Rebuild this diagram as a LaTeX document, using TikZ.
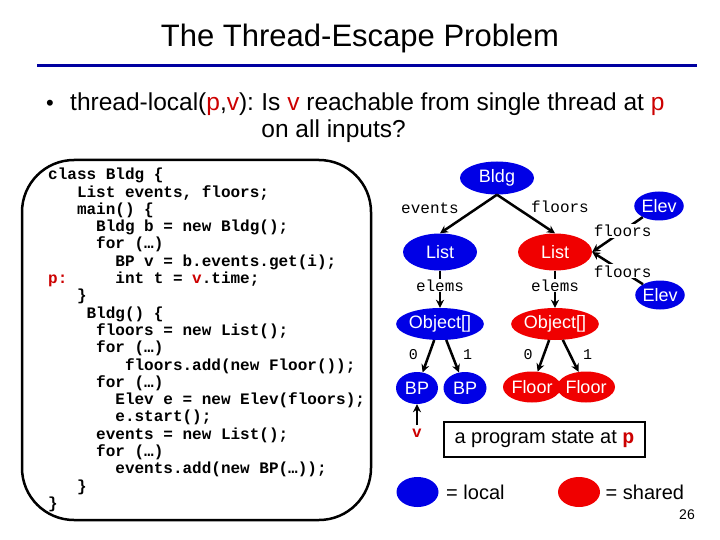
\documentclass[tikz,border=0pt]{standalone}
\usepackage{fontspec}
\setmainfont{Liberation Sans}
\newfontfamily\codefont{Liberation Mono}
\usepackage{tikz}
\usetikzlibrary{shapes.geometric, positioning, arrows.meta}
\definecolor{localblue}{RGB}{0,0,230}
\definecolor{sharedred}{RGB}{240,0,0}
\definecolor{titlerule}{RGB}{0,0,160}
\definecolor{hilite}{RGB}{204,0,0}
\newlength{\cw}\setlength{\cw}{9.6pt}
\newcommand{\codeind}[1]{\hspace*{#1\cw}}
\tikzset{
    >={Stealth[length=8pt, width=8pt]}, % small pointed heads
    heap/.style={ellipse, inner sep=0pt, text=white, font=\fontsize{18}{18}\selectfont, minimum width=74pt, minimum height=33pt}, % one object of the heap
    local/.style={heap, fill=localblue},
    shared/.style={heap, fill=sharedred},
    field/.style={font=\codefont\fontsize{16}{16}\selectfont, inner sep=1pt, fill=white}, % field names on the edges
    idx/.style={font=\codefont\fontsize{15}{15}\selectfont, inner sep=2pt},
    ref/.style={->, line width=2.5pt},
    big/.style={font=\fontsize{20}{20}\selectfont},
    ask/.style={font=\fontsize{24.5}{24.5}\selectfont, anchor=base west, inner sep=0pt},
}

\begin{document}
\begin{tikzpicture}[x=1pt, y=-1pt]
    \useasboundingbox (0,0) rectangle (720,540);
    % title
    \node[font=\fontsize{31}{31}\selectfont, anchor=base] (title) at (360,47) {The Thread-Escape Problem};
    \coordinate (ruleL) at (37,66);
    \coordinate (ruleR) at (697,66);
    \draw[titlerule, line width=3pt] (ruleL) -- (ruleR);
    % the question
    \node[font=\fontsize{22}{22}\selectfont, anchor=base] (dot) at (50,111) {\textbullet};
    \node[ask] (askA) at (70,111) {thread-local(\textcolor{hilite}{p},\textcolor{hilite}{v}):};
    \node[ask] (askB) at ([xshift=7pt]askA.base east) {Is \textcolor{hilite}{v} reachable from single thread at \textcolor{hilite}{p}};
    \node[ask] (askC) at ([yshift=-27pt]askB.base west) {on all inputs?};
    % the program
    \node[draw, line width=2.5pt, rounded corners=52pt, minimum width=349pt, minimum height=360pt] (prog) at (196.5,340) {};
    \node[anchor=north west, align=left, inner sep=0pt, font=\codefont\bfseries\fontsize{16}{17.3}\selectfont] (src) at (48,168) {%
        class Bldg \{\\
        \codeind{3}List events, floors;\\
        \codeind{3}main() \{\\
        \codeind{5}Bldg b = new Bldg();\\
        \codeind{5}for (…)\\
        \codeind{7}BP v = b.events.get(i);\\
        \textcolor{hilite}{p:}\codeind{5}int t = \textcolor{hilite}{v}.time;\\
        \codeind{3}\}\\
        \codeind{4}Bldg() \{\\
        \codeind{5}floors = new List();\\
        \codeind{5}for (…)\\
        \codeind{8}floors.add(new Floor());\\
        \codeind{5}for (…)\\
        \codeind{7}Elev e = new Elev(floors);\\
        \codeind{7}e.start();\\
        \codeind{5}events = new List();\\
        \codeind{5}for (…)\\
        \codeind{7}events.add(new BP(…));\\
        \codeind{3}\}\\
        \}};
    % the heap
    \node[local] (bldg) at (497,178) {Bldg};
    \node[local, minimum height=37pt] (eventsList) at (440,252) {List};
    \node[shared, minimum height=37pt] (floorsList) at (555,252) {List};
    \node[local, minimum width=48pt, minimum height=29pt] (elevA) at (659,206) {Elev};
    \node[local, minimum width=48pt, minimum height=29pt] (elevB) at (660,295) {Elev};
    \node[local, minimum height=32pt] (eventsArr) at (440,324) {Object[]};
    \node[shared, minimum height=32pt] (floorsArr) at (555,324) {Object[]};
    \node[local, minimum width=42pt, minimum height=32pt] (bp0) at (417,388) {BP};
    \node[local, minimum width=43pt, minimum height=32pt] (bp1) at (465,388) {BP};
    \node[shared, minimum width=48pt, minimum height=31pt] (floor0) at (532,387) {Floor};
    \node[shared, minimum width=49pt, minimum height=31pt] (floor1) at (586,387) {Floor};
    \node[font=\codefont\bfseries\fontsize{16}{16}\selectfont, text=hilite] (varV) at (417,433) {v};
    \draw[ref] (bldg.south) -- (eventsList.north);
    \draw[ref] (bldg.south) -- (floorsList.north);
    \node[field] (lblEvents) at (430,208) {events};
    \node[field] (lblFloors) at (560,207) {floors};
    \draw[ref] (elevA) -- node[field, pos=.4] (lblElevA) {floors} (floorsList.east);
    \draw[ref] (elevB) -- node[field, pos=.4] (lblElevB) {floors} (floorsList.east);
    \draw[ref] (eventsList) -- node[field, pos=.4] (lblElemsA) {elems} (eventsArr);
    \draw[ref] (floorsList) -- node[field, pos=.4] (lblElemsB) {elems} (floorsArr);
    \draw[ref] (eventsArr) -- node[idx, left=8pt, pos=.45] (ix0A) {0} (bp0);
    \draw[ref] (eventsArr) -- node[idx, right=8pt, pos=.45] (ix1A) {1} (bp1);
    \draw[ref] (floorsArr) -- node[idx, left=8pt, pos=.45] (ix0B) {0} (floor0);
    \draw[ref] (floorsArr) -- node[idx, right=10pt, pos=.45] (ix1B) {1} (floor1);
    \draw[ref] (varV) -- (bp0);
    % caption and key
    \node[draw, line width=2pt, minimum width=201pt, minimum height=35pt, big] (pstate) at (544.5,439.5) {a program state at \textcolor{hilite}{\codefont\bfseries p}};
    \node[local, minimum width=42pt, minimum height=30pt] (keyLocal) at (417.5,492) {};
    \node[big, right=4pt of keyLocal] (keyLocalTxt) {= local};
    \node[shared, minimum width=42pt, minimum height=30pt] (keyShared) at (579,492) {};
    \node[big, right=2pt of keyShared] (keySharedTxt) {= shared};
    \node[font=\fontsize{14}{14}\selectfont] (pageNo) at (687,515) {26};
\end{tikzpicture}
\end{document}
